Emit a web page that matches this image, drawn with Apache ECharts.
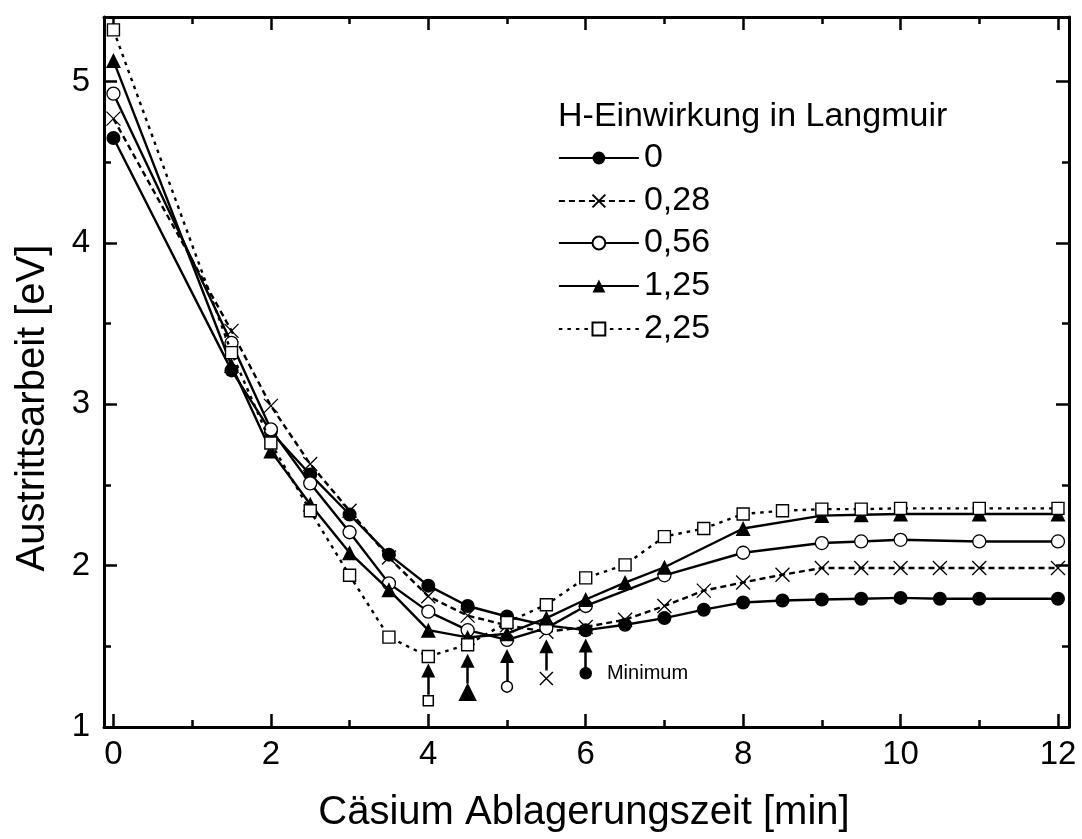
<!DOCTYPE html>
<html>
<head>
<meta charset="utf-8">
<script src="https://cdn.jsdelivr.net/npm/echarts@6/dist/echarts.min.js"></script>
<style>
html,body{margin:0;padding:0;background:#fff;}
#chart{width:1082px;height:839px;}
</style>
</head>
<body>
<div id="chart"></div>
<script>
// ---------- data ----------
const seriesNames = ['0', '0,28', '0,56', '1,25', '2,25'];

const times0 = [0, 1.5, 2, 2.5, 3, 3.5, 4, 4.5, 5, 5.5, 6, 6.5, 7, 7.5, 8, 8.5, 9, 9.5, 10, 10.5, 11, 12];
const values0 = [4.65, 3.21, 2.83, 2.565, 2.317, 2.068, 1.876, 1.75, 1.685, 1.63, 1.60, 1.634, 1.675, 1.727, 1.772, 1.784, 1.79, 1.795, 1.80, 1.795, 1.795, 1.795];

const times028 = [0, 1.5, 2, 2.5, 3, 3.5, 4, 4.5, 5, 5.5, 6, 6.5, 7, 7.5, 8, 8.5, 9, 9.5, 10, 10.5, 11, 12];
const values028 = [4.77, 3.455, 2.99, 2.63, 2.34, 2.05, 1.81, 1.69, 1.63, 1.59, 1.62, 1.665, 1.75, 1.845, 1.896, 1.944, 1.985, 1.985, 1.985, 1.985, 1.985, 1.985];

const times056 = [0, 1.5, 2, 2.5, 3, 3.5, 4, 4.5, 5, 5.5, 6, 7, 8, 9, 9.5, 10, 11, 12];
const values056 = [4.925, 3.38, 2.845, 2.51, 2.207, 1.89, 1.715, 1.60, 1.54, 1.613, 1.75, 1.94, 2.08, 2.14, 2.15, 2.16, 2.15, 2.15];

const times125 = [0, 1.5, 2, 2.5, 3, 3.5, 4, 4.5, 5, 5.5, 6, 6.5, 7, 8, 9, 9.5, 10, 11, 12];
const values125 = [5.13, 3.24, 2.71, 2.38, 2.08, 1.85, 1.60, 1.555, 1.578, 1.675, 1.79, 1.895, 1.99, 2.23, 2.31, 2.315, 2.32, 2.32, 2.32];

const times225 = [0, 1.5, 2, 2.5, 3, 3.5, 4, 4.5, 5, 5.5, 6, 6.5, 7, 7.5, 8, 8.5, 9, 9.5, 10, 11, 12];
const values225 = [5.32, 3.32, 2.76, 2.34, 1.94, 1.557, 1.437, 1.51, 1.648, 1.758, 1.924, 2.005, 2.18, 2.23, 2.32, 2.34, 2.35, 2.35, 2.355, 2.355, 2.355];

// minimum markers (order: 2,25 / 1,25 / 0,56 / 0,28 / 0)
const minTimes = [4, 4.5, 5, 5.5, 6];
const minMarkerValues = [1.163, 1.215, 1.25, 1.30, 1.333];
const arrowStart = [1.20, 1.27, 1.285, 1.35, 1.36];
const arrowEnd = [1.35, 1.41, 1.44, 1.50, 1.505];
const minimumLabel = 'Minimum';

const xMajorTicks = [0, 2, 4, 6, 8, 10, 12];
const xMinorTicks = [1, 3, 5, 7, 9, 11];
const yMajorTicks = [1, 2, 3, 4, 5];
const yMinorTicks = [1.5, 2.5, 3.5, 4.5];

const xTitle = 'Cäsium Ablagerungszeit [min]';
const yTitle = 'Austrittsarbeit [eV]';
const legendTitle = 'H-Einwirkung in Langmuir';

// ---------- helpers ----------
const FONT = "'Liberation Sans', Arial, Helvetica, sans-serif";
const pairs = (xs, ys) => xs.map((x, i) => [x, ys[i]]);
const CROSS = 'path://M0,0L10,10M10,0L0,10';

const X_MIN = -0.12, X_MAX = 12.14, Y_MIN = 1, Y_MAX = 5.4;

function xAx(pos, ticks, len, labels, line) {
  return {
    type: 'value', position: pos, min: X_MIN, max: X_MAX,
    splitLine: {show: false},
    axisLine: {show: line, onZero: false, lineStyle: {color: '#000', width: 3}},
    axisTick: {show: true, inside: true, length: len, customValues: ticks, lineStyle: {color: '#000', width: 2.5}},
    axisLabel: labels ? {show: true, customValues: ticks, fontSize: 33, fontFamily: FONT, color: '#000', margin: 11} : {show: false}
  };
}
function yAx(pos, ticks, len, labels, line) {
  return {
    type: 'value', position: pos, min: Y_MIN, max: Y_MAX,
    splitLine: {show: false},
    axisLine: {show: line, onZero: false, lineStyle: {color: '#000', width: 3}},
    axisTick: {show: true, inside: true, length: len, customValues: ticks, lineStyle: {color: '#000', width: 2.5}},
    axisLabel: labels ? {show: true, customValues: ticks, fontSize: 33, fontFamily: FONT, color: '#000', margin: 14} : {show: false}
  };
}

const styles = [
  {symbol: 'circle', size: 14, item: {color: '#000', borderColor: '#000', borderWidth: 0, opacity: 1}, line: {type: 'solid'}},
  {symbol: CROSS, size: 14, item: {color: '#000', borderColor: '#000', borderWidth: 1.3, opacity: 1}, line: {type: [6, 4]}},
  {symbol: 'circle', size: 13, item: {color: '#fff', borderColor: '#000', borderWidth: 1.3, opacity: 1}, line: {type: 'solid'}},
  {symbol: 'triangle', size: 15, item: {color: '#000', borderColor: '#000', borderWidth: 0, opacity: 1}, line: {type: 'solid'}},
  {symbol: 'rect', size: 12, item: {color: '#fff', borderColor: '#000', borderWidth: 1.4, opacity: 1}, line: {type: [3.5, 5]}}
];
const seriesData = [
  pairs(times0, values0), pairs(times028, values028), pairs(times056, values056),
  pairs(times125, values125), pairs(times225, values225)
];

const lineSeries = seriesNames.map((name, i) => ({
  name: name, type: 'line', xAxisIndex: 0, yAxisIndex: 0,
  data: seriesData[i], symbol: styles[i].symbol, symbolSize: styles[i].size,
  showAllSymbol: true,
  itemStyle: styles[i].item,
  lineStyle: {color: '#000', width: 2.4, type: styles[i].line.type},
  emphasis: {disabled: true}, z: 2 + i
}));

// minimum markers, one per series style (reverse order: 2,25 ... 0)
const minStyleIdx = [4, 3, 2, 1, 0];
const minSizes = [10, 16, 11, 13, 11];
const minSeries = minTimes.map((t, k) => {
  const st = styles[minStyleIdx[k]];
  const item = {value: [t, minMarkerValues[k]]};
  if (k === 4) {
    item.label = {show: true, position: 'right', distance: 15, formatter: minimumLabel,
      fontSize: 20, fontFamily: FONT, color: '#000', opacity: 1};
  }
  return {
    type: 'scatter', xAxisIndex: 0, yAxisIndex: 0,
    data: [item], symbol: st.symbol, symbolSize: minSizes[k],
    itemStyle: Object.assign({}, st.item, {opacity: 1, borderWidth: Math.max(st.item.borderWidth, 1.5)}),
    emphasis: {disabled: true}, z: 10
  };
});

const arrowSeries = {
  type: 'lines', coordinateSystem: 'cartesian2d', xAxisIndex: 0, yAxisIndex: 0,
  symbol: ['none', 'triangle'], symbolSize: 14,
  lineStyle: {color: '#000', width: 2.5, opacity: 1, curveness: 0},
  data: minTimes.map((t, k) => ({coords: [[t, arrowStart[k]], [t, arrowEnd[k]]]})),
  z: 9, silent: true
};

const legendTops = [141, 184, 226, 269, 312];
const legends = seriesNames.map((name, i) => ({
  data: [name], left: 558, top: legendTops[i], orient: 'vertical',
  padding: 0, itemWidth: 80, itemHeight: 16, selectedMode: false,
  textStyle: {fontSize: 34, fontFamily: FONT, color: '#000', lineHeight: 34},
  lineStyle: {width: 1.8}
}));

const chart = echarts.init(document.getElementById('chart'), null, {renderer: 'canvas'});
chart.setOption({
  backgroundColor: '#fff',
  animation: false,
  grid: {left: 104, right: 13, top: 17, bottom: 112, containLabel: false},
  xAxis: [
    xAx('bottom', xMajorTicks, 13, true, true),
    xAx('bottom', xMinorTicks, 7, false, false),
    xAx('top', xMajorTicks, 13, false, true),
    xAx('top', xMinorTicks, 7, false, false)
  ],
  yAxis: [
    yAx('left', yMajorTicks, 13, true, true),
    yAx('left', yMinorTicks, 7, false, false),
    yAx('right', yMajorTicks, 13, false, true),
    yAx('right', yMinorTicks, 7, false, false)
  ],
  legend: legends,
  graphic: [
    {type: 'text', left: 558, top: 100, style: {text: legendTitle, fontSize: 34, fontFamily: FONT, fill: '#000'}},
    {type: 'text', x: 584, y: 813, style: {text: xTitle, fontSize: 40, fontFamily: FONT, fill: '#000', align: 'center', verticalAlign: 'middle'}},
    {type: 'text', x: 33, y: 408, rotation: Math.PI / 2, style: {text: yTitle, fontSize: 40, fontFamily: FONT, fill: '#000', align: 'center', verticalAlign: 'middle'}}
  ],
  series: lineSeries.concat(minSeries, [arrowSeries])
});
</script>
</body>
</html>
